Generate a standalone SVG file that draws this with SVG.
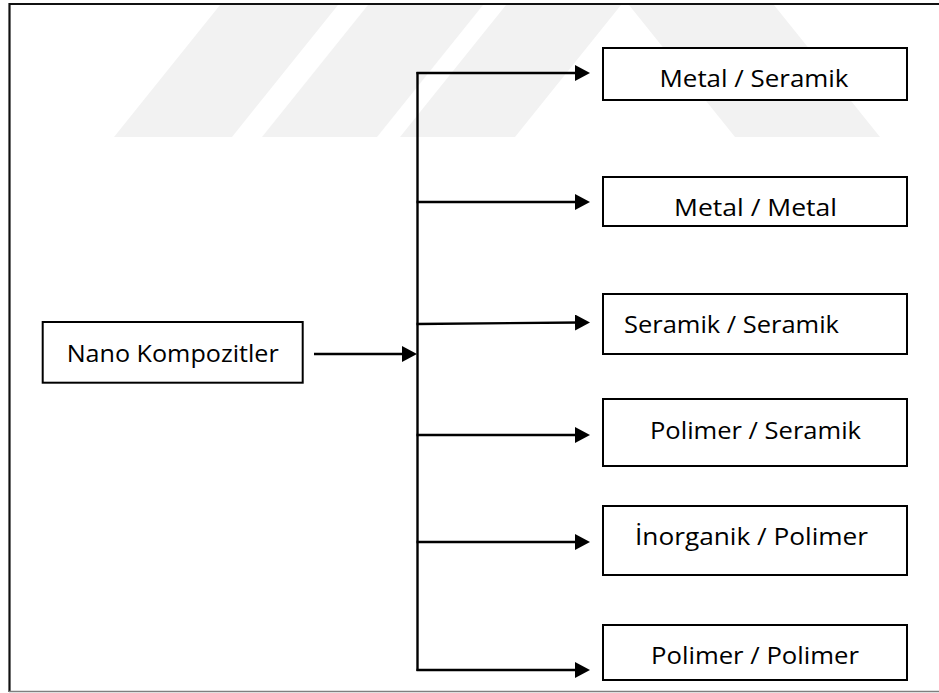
<svg xmlns="http://www.w3.org/2000/svg" width="939" height="693" viewBox="0 0 939 693">
<defs>
<marker id="ah" markerWidth="15" markerHeight="16" refX="5" refY="8" orient="auto" markerUnits="userSpaceOnUse"><path d="M0,0 L15,8 L0,16 Z" fill="#000"/></marker>
</defs>
<style>
.wm{fill:#f2f2f2}
.frame{fill:none;stroke:#111;stroke-width:2.2}
.frame-b{fill:none;stroke:#7f7f7f;stroke-width:1.6}
.box{fill:#fff;stroke:#000;stroke-width:2}
.lbl{font-family:"Open Sans","Noto Sans","Liberation Sans",sans-serif;font-size:24px;fill:#000}
.conn{fill:none;stroke:#000;stroke-width:2.4}
.arrow{marker-end:url(#ah)}
</style>
<rect width="939" height="693" fill="#fff"/>
<g id="watermark">
<polygon class="wm" points="114,137 232,137 338,5 220,5"/>
<polygon class="wm" points="262,137 377,137 483,5 368,5"/>
<polygon class="wm" points="400,137 515,137 621,5 506,5"/>
<polygon class="wm" points="735,137 880,137 774,5 629,5"/>
</g>
<g id="frame">
<path class="frame" d="M9.5,692 V4 H939"/>
<path class="frame-b" d="M9,691.5 H939"/>
</g>
<g id="connectors">
<path class="conn" d="M417.5,72 V671"/>
<path class="conn arrow" d="M416.5,73 H580"/>
<path class="conn arrow" d="M416.5,202 H580"/>
<path class="conn arrow" d="M416.5,324 L580,322.5"/>
<path class="conn arrow" d="M416.5,435 H580"/>
<path class="conn arrow" d="M416.5,542 H580"/>
<path class="conn arrow" d="M416.5,670 H580"/>
<path class="conn arrow" d="M314,354 H407"/>
</g>
<g id="nano">
<rect class="box" x="42.7" y="322" width="260" height="60.7"/>
<text class="lbl" x="66.7" y="362" textLength="212" lengthAdjust="spacingAndGlyphs">Nano Kompozitler</text>
</g>
<g id="metal-seramik">
<rect class="box" x="603" y="48" width="304" height="52"/>
<text class="lbl" x="659.5" y="87" textLength="189" lengthAdjust="spacingAndGlyphs">Metal / Seramik</text>
</g>
<g id="metal-metal">
<rect class="box" x="603" y="177" width="304" height="49"/>
<text class="lbl" x="674" y="216" textLength="163" lengthAdjust="spacingAndGlyphs">Metal / Metal</text>
</g>
<g id="seramik-seramik">
<rect class="box" x="603" y="294" width="304" height="60"/>
<text class="lbl" x="624" y="333" textLength="215" lengthAdjust="spacingAndGlyphs">Seramik / Seramik</text>
</g>
<g id="polimer-seramik">
<rect class="box" x="603" y="399" width="304" height="67"/>
<text class="lbl" x="650" y="438.5" textLength="211" lengthAdjust="spacingAndGlyphs">Polimer / Seramik</text>
</g>
<g id="inorganik-polimer">
<rect class="box" x="603" y="506" width="304" height="69"/>
<text class="lbl" x="635" y="545" textLength="233" lengthAdjust="spacingAndGlyphs">İnorganik / Polimer</text>
</g>
<g id="polimer-polimer">
<rect class="box" x="603" y="625" width="304" height="55"/>
<text class="lbl" x="651" y="663.5" textLength="208" lengthAdjust="spacingAndGlyphs">Polimer / Polimer</text>
</g>
</svg>
